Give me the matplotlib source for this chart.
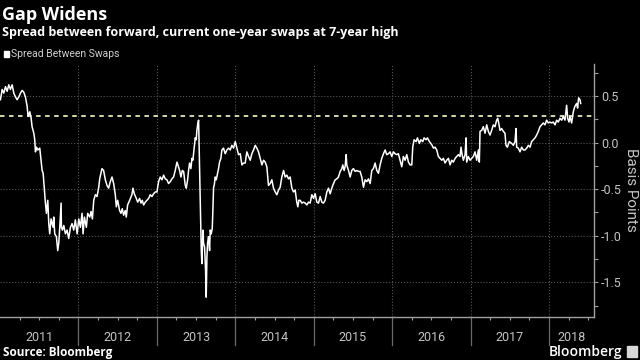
import numpy as np
import matplotlib
matplotlib.use("Agg")
import matplotlib.pyplot as plt
from matplotlib.transforms import blended_transform_factory
from matplotlib.patches import Rectangle

title = "Gap Widens"
subtitle = "Spread between forward, current one-year swaps at 7-year high"
series_name = "Spread Between Swaps"
source = "Source: Bloomberg"
y_label = "Basis Points"

years = [2011, 2012, 2013, 2014, 2015, 2016, 2017, 2018]
y_ticks = [0.5, 0.0, -0.5, -1.0, -1.5]
y_tick_labels = ["0.5", "0.0", "-0.5", "-1.0", "-1.5"]
threshold = 0.285

# fractional year
dates = [
    2011.006, 2011.027, 2011.048, 2011.070, 2011.091, 2011.112, 2011.133, 2011.155, 2011.176, 2011.197,
    2011.218, 2011.240, 2011.261, 2011.282, 2011.303, 2011.324, 2011.346, 2011.358, 2011.380, 2011.397,
    2011.409, 2011.431, 2011.443, 2011.452, 2011.465, 2011.482, 2011.507, 2011.524, 2011.537, 2011.550,
    2011.566, 2011.579, 2011.592, 2011.609, 2011.622, 2011.634, 2011.651, 2011.677, 2011.685, 2011.698,
    2011.719, 2011.736, 2011.749, 2011.762, 2011.779, 2011.783, 2011.796, 2011.813, 2011.834, 2011.855,
    2011.876, 2011.898, 2011.919, 2011.940, 2011.961, 2011.983, 2012.004, 2012.025, 2012.046, 2012.059,
    2012.076, 2012.101, 2012.118, 2012.144, 2012.161, 2012.178, 2012.195, 2012.216, 2012.237, 2012.259,
    2012.271,
    2012.300, 2012.321, 2012.343, 2012.364, 2012.385, 2012.406, 2012.428, 2012.449, 2012.470, 2012.483,
    2012.500, 2012.525, 2012.542, 2012.559, 2012.576, 2012.597, 2012.610, 2012.627, 2012.653, 2012.682,
    2012.695, 2012.712, 2012.738, 2012.755, 2012.780, 2012.797, 2012.814, 2012.831, 2012.852, 2012.873,
    2012.895, 2012.916, 2012.937, 2012.958, 2012.980, 2013.001, 2013.022, 2013.043, 2013.065, 2013.086,
    2013.107, 2013.128, 2013.149, 2013.171, 2013.192, 2013.213, 2013.234, 2013.256, 2013.268, 2013.290,
    2013.307, 2013.324, 2013.341, 2013.362, 2013.375, 2013.392, 2013.404, 2013.417, 2013.434, 2013.447,
    2013.459, 2013.476, 2013.489, 2013.502, 2013.510, 2013.523, 2013.532,
    2013.566, 2013.574, 2013.587, 2013.595, 2013.608, 2013.621, 2013.629, 2013.638, 2013.646, 2013.659,
    2013.672, 2013.680, 2013.693, 2013.706, 2013.714, 2013.723, 2013.731, 2013.744, 2013.757, 2013.774,
    2013.786, 2013.799, 2013.816, 2013.829, 2013.850, 2013.871, 2013.893, 2013.914, 2013.935, 2013.956,
    2013.978, 2013.999, 2014.020, 2014.041, 2014.063, 2014.084, 2014.105, 2014.126, 2014.147, 2014.169,
    2014.190, 2014.211, 2014.232, 2014.254, 2014.275, 2014.296, 2014.317, 2014.339, 2014.360, 2014.381,
    2014.402, 2014.423, 2014.445, 2014.466, 2014.487, 2014.508, 2014.530, 2014.551, 2014.572, 2014.593,
    2014.615, 2014.636, 2014.657, 2014.678, 2014.699, 2014.721, 2014.742, 2014.763, 2014.784, 2014.797,
    2014.810,
    2014.827, 2014.848, 2014.869, 2014.891, 2014.912, 2014.933, 2014.954, 2014.976, 2014.997, 2015.018,
    2015.039, 2015.061, 2015.082, 2015.103, 2015.124, 2015.145, 2015.167, 2015.188, 2015.209, 2015.230,
    2015.252, 2015.273, 2015.294, 2015.315, 2015.337, 2015.358, 2015.370, 2015.387, 2015.400, 2015.413,
    2015.421, 2015.443, 2015.464, 2015.485, 2015.506, 2015.528, 2015.549, 2015.570, 2015.591, 2015.612,
    2015.634, 2015.655, 2015.676, 2015.697, 2015.719, 2015.740, 2015.761, 2015.782, 2015.804, 2015.825,
    2015.846, 2015.867, 2015.889, 2015.910, 2015.931, 2015.952, 2015.973, 2015.995, 2016.016, 2016.037,
    2016.058, 2016.079,
    2016.101, 2016.122, 2016.143, 2016.165, 2016.186, 2016.207, 2016.228, 2016.250, 2016.262, 2016.279,
    2016.305, 2016.322, 2016.347, 2016.364, 2016.390, 2016.407, 2016.432, 2016.449, 2016.475, 2016.492,
    2016.509, 2016.526, 2016.547, 2016.568, 2016.589, 2016.611, 2016.632, 2016.653, 2016.674, 2016.695,
    2016.717, 2016.738, 2016.759, 2016.780, 2016.802, 2016.823, 2016.844, 2016.865, 2016.878, 2016.891,
    2016.908, 2016.929, 2016.942, 2016.950, 2016.971, 2016.993, 2017.014, 2017.035, 2017.056, 2017.078,
    2017.099, 2017.111, 2017.120, 2017.141, 2017.162, 2017.184, 2017.205, 2017.226, 2017.247, 2017.268,
    2017.290, 2017.311, 2017.332, 2017.345, 2017.358,
    2017.375, 2017.396, 2017.417, 2017.438, 2017.451, 2017.468, 2017.494, 2017.524, 2017.545, 2017.566,
    2017.579, 2017.587, 2017.608, 2017.630, 2017.651, 2017.672, 2017.693, 2017.715, 2017.736, 2017.757,
    2017.778, 2017.800, 2017.821, 2017.842, 2017.863, 2017.885, 2017.906, 2017.927, 2017.948, 2017.969,
    2017.991, 2018.012, 2018.033, 2018.054, 2018.076, 2018.097, 2018.118, 2018.139, 2018.161, 2018.182,
    2018.203, 2018.224, 2018.237, 2018.254, 2018.267, 2018.288, 2018.309, 2018.330, 2018.352, 2018.364,
    2018.377, 2018.394, 2018.403,
]

spread = [
    0.46, 0.57, 0.53, 0.60, 0.55, 0.62, 0.57, 0.62, 0.53, 0.49,
    0.46, 0.49, 0.53, 0.56, 0.54, 0.49, 0.39, 0.28, 0.33, 0.26,
    0.17, 0.10, 0.03, -0.10, -0.05, -0.08, -0.06, -0.19, -0.30, -0.33,
    -0.51, -0.65, -0.76, -0.62, -0.87, -0.98, -0.82, -0.91, -0.80, -0.98,
    -1.01, -1.16, -1.08, -0.91, -0.65, -0.91, -0.94, -0.89, -0.98, -0.94,
    -1.03, -0.91, -0.87, -0.94, -0.83, -0.98, -0.82, -0.91, -0.76, -0.98,
    -0.80, -0.91, -0.76, -0.80, -0.74, -0.82, -0.62, -0.56, -0.58, -0.48,
    -0.39,
    -0.28, -0.30, -0.40, -0.46, -0.49, -0.42, -0.37, -0.44, -0.56, -0.69,
    -0.62, -0.73, -0.76, -0.71, -0.78, -0.73, -0.80, -0.67, -0.62, -0.56,
    -0.49, -0.55, -0.60, -0.64, -0.60, -0.65, -0.62, -0.67, -0.64, -0.62,
    -0.60, -0.56, -0.58, -0.55, -0.53, -0.53, -0.42, -0.37, -0.40, -0.35,
    -0.39, -0.40, -0.44, -0.42, -0.39, -0.37, -0.30, -0.21, -0.24, -0.30,
    -0.37, -0.30, -0.31, -0.46, -0.49, -0.40, -0.30, -0.22, -0.28, -0.17,
    -0.19, -0.06, 0.05, 0.03, 0.13, 0.21, 0.24,
    -1.16, -1.30, -0.94, -1.08, -1.12, -1.37, -1.66, -1.23, -1.08, -1.01,
    -1.16, -0.94, -0.98, -0.92, -0.73, -0.48, -0.46, -0.37, -0.40, -0.33,
    -0.28, -0.21, -0.17, -0.08, -0.06, -0.12, -0.08, -0.06, -0.08, -0.03,
    -0.06, 0.01, -0.06, -0.13, -0.12, -0.24, -0.22, -0.22, -0.10, -0.15,
    -0.19, -0.12, -0.08, -0.03, -0.06, -0.10, -0.17, -0.24, -0.19, -0.21,
    -0.26, -0.46, -0.44, -0.40, -0.49, -0.53, -0.56, -0.51, -0.48, -0.37,
    -0.30, -0.37, -0.35, -0.39, -0.37, -0.49, -0.53, -0.51, -0.64, -0.69,
    -0.62,
    -0.62, -0.65, -0.64, -0.65, -0.67, -0.64, -0.65, -0.56, -0.60, -0.55,
    -0.64, -0.65, -0.58, -0.64, -0.65, -0.62, -0.53, -0.49, -0.55, -0.49,
    -0.44, -0.40, -0.39, -0.37, -0.31, -0.28, -0.24, -0.30, -0.26, -0.13,
    -0.24, -0.30, -0.37, -0.30, -0.28, -0.31, -0.30, -0.31, -0.31, -0.37,
    -0.48, -0.40, -0.42, -0.39, -0.44, -0.30, -0.28, -0.22, -0.30, -0.33,
    -0.24, -0.17, -0.12, -0.08, -0.13, -0.12, -0.10, -0.15, -0.10, -0.12,
    -0.13, -0.12,
    -0.19, -0.26, -0.15, -0.19, -0.13, -0.21, -0.24, -0.24, -0.05, 0.03,
    0.01, 0.05, -0.01, 0.03, 0.01, 0.05, 0.03, 0.05, 0.01, -0.01,
    -0.03, -0.06, -0.05, -0.08, -0.15, -0.17, -0.19, -0.17, -0.22, -0.19,
    -0.17, -0.24, -0.19, -0.21, -0.17, -0.15, -0.13, -0.15, -0.05, -0.13,
    -0.19, -0.13, 0.05, -0.21, -0.15, -0.19, -0.17, -0.15, -0.10, -0.19,
    -0.08, -0.21, 0.12, 0.13, 0.17, 0.10, 0.19, 0.12, 0.08, 0.13,
    0.19, 0.17, 0.24, 0.26, 0.21,
    0.13, 0.15, 0.12, 0.10, -0.03, -0.05, 0.01, -0.01, -0.03, 0.01,
    0.15, -0.05, -0.06, -0.10, -0.05, -0.08, -0.08, -0.06, -0.03, -0.05,
    0.01, 0.03, 0.05, 0.08, 0.12, 0.17, 0.19, 0.21, 0.19, 0.24,
    0.21, 0.22, 0.21, 0.22, 0.19, 0.24, 0.22, 0.26, 0.24, 0.28,
    0.24, 0.40, 0.26, 0.22, 0.28, 0.21, 0.33, 0.39, 0.42, 0.37,
    0.48, 0.46, 0.42,
]

plt.rcParams['axes.unicode_minus'] = False
plt.rcParams['font.family'] = ['Liberation Sans Narrow', 'Roboto', 'DejaVu Sans']

tick_grey = '#c4c4c4'
axis_grey = '#a0a0a0'
grid_grey = '#555555'

fig = plt.figure(figsize=(6.4, 3.6), dpi=100, facecolor='black')
ax = fig.add_axes([0.0, 0.1194, 0.928, 0.7028])
ax.set_facecolor('black')

ax.plot(dates, spread, color='white', lw=1.1, zorder=3)
ax.axhline(threshold, color='#e2eab2', lw=1.3, ls=(0, (2.5, 2.5)), zorder=2)

x0, x1 = 2011.0, 2018.572
ax.set_xlim(x0, x1)
ax.set_ylim(-1.873, 0.843)

for side in ['left', 'top']:
    ax.spines[side].set_visible(False)
for side in ['bottom', 'right']:
    ax.spines[side].set_color(axis_grey)
    ax.spines[side].set_linewidth(1.0)

# right-hand value axis
ax.yaxis.tick_right()
ax.set_yticks(y_ticks)
ax.set_yticklabels(y_tick_labels)
ax.set_yticks(np.arange(-1.75, 0.8, 0.5), minor=True)
ax.tick_params(axis='y', which='both', length=3, width=0.8, color=axis_grey,
               labelcolor=tick_grey, labelsize=9, pad=2)
ax.grid(axis='y', which='major', color=grid_grey, ls=':', lw=0.8)

# quarter ticks on the time axis, years as separators
ax.set_xticks([])
quarters = [y + q for y in years for q in (0.25, 0.5, 0.75) if y + q < x1]
ax.set_xticks(quarters, minor=True)
ax.tick_params(axis='x', which='minor', length=2.5, width=0.8, color=axis_grey)

trans = blended_transform_factory(ax.transData, ax.transAxes)
for yr in years[1:]:
    ax.axvline(yr, color=grid_grey, ls=':', lw=0.8, zorder=1)
    ax.plot([yr, yr], [0, -0.11], transform=trans, color='#6a6a6a', lw=0.9, clip_on=False)
for yr in years:
    mid = (max(yr, x0) + min(yr + 1, x1)) / 2
    ax.text(mid, -0.082, str(yr), transform=trans, ha='center', va='center',
            color=tick_grey, fontsize=9)

fig.text(631 / 640, 1 - 190 / 360, y_label, rotation=270, ha='center', va='center',
         color=tick_grey, fontsize=11)

# header
fig.text(2 / 640, 1 - 20 / 360, title, ha='left', va='baseline', color='white',
         fontsize=13, fontweight='bold', family=['Open Sans', 'DejaVu Sans'])
fig.text(2 / 640, 1 - 36 / 360, subtitle, ha='left', va='baseline', color='white',
         fontsize=9.0, fontweight='bold', family=['Open Sans', 'DejaVu Sans'])
fig.patches.append(Rectangle((4 / 640, 1 - 57 / 360), 5 / 640, 6 / 360,
                             transform=fig.transFigure, color='white'))
fig.text(11 / 640, 1 - 54 / 360, series_name, ha='left', va='center',
         color='#d0d0d0', fontsize=7.5)

# footer
fig.text(3 / 640, 1 - 356 / 360, source, ha='left', va='baseline', color='white',
         fontsize=8.5, fontweight='bold', family=['Open Sans', 'DejaVu Sans'])
fig.text(622 / 640, 1 - 356 / 360, "Bloomberg", ha='right', va='baseline', color='white',
         fontsize=10, fontweight='semibold', family=['Open Sans', 'DejaVu Sans'])
fig.patches.append(Rectangle((627 / 640, 1 - 357 / 360), 10 / 640, 11 / 360,
                             transform=fig.transFigure, color='#d8d8d8'))

fig.savefig('out.png', dpi=100, facecolor='black')
